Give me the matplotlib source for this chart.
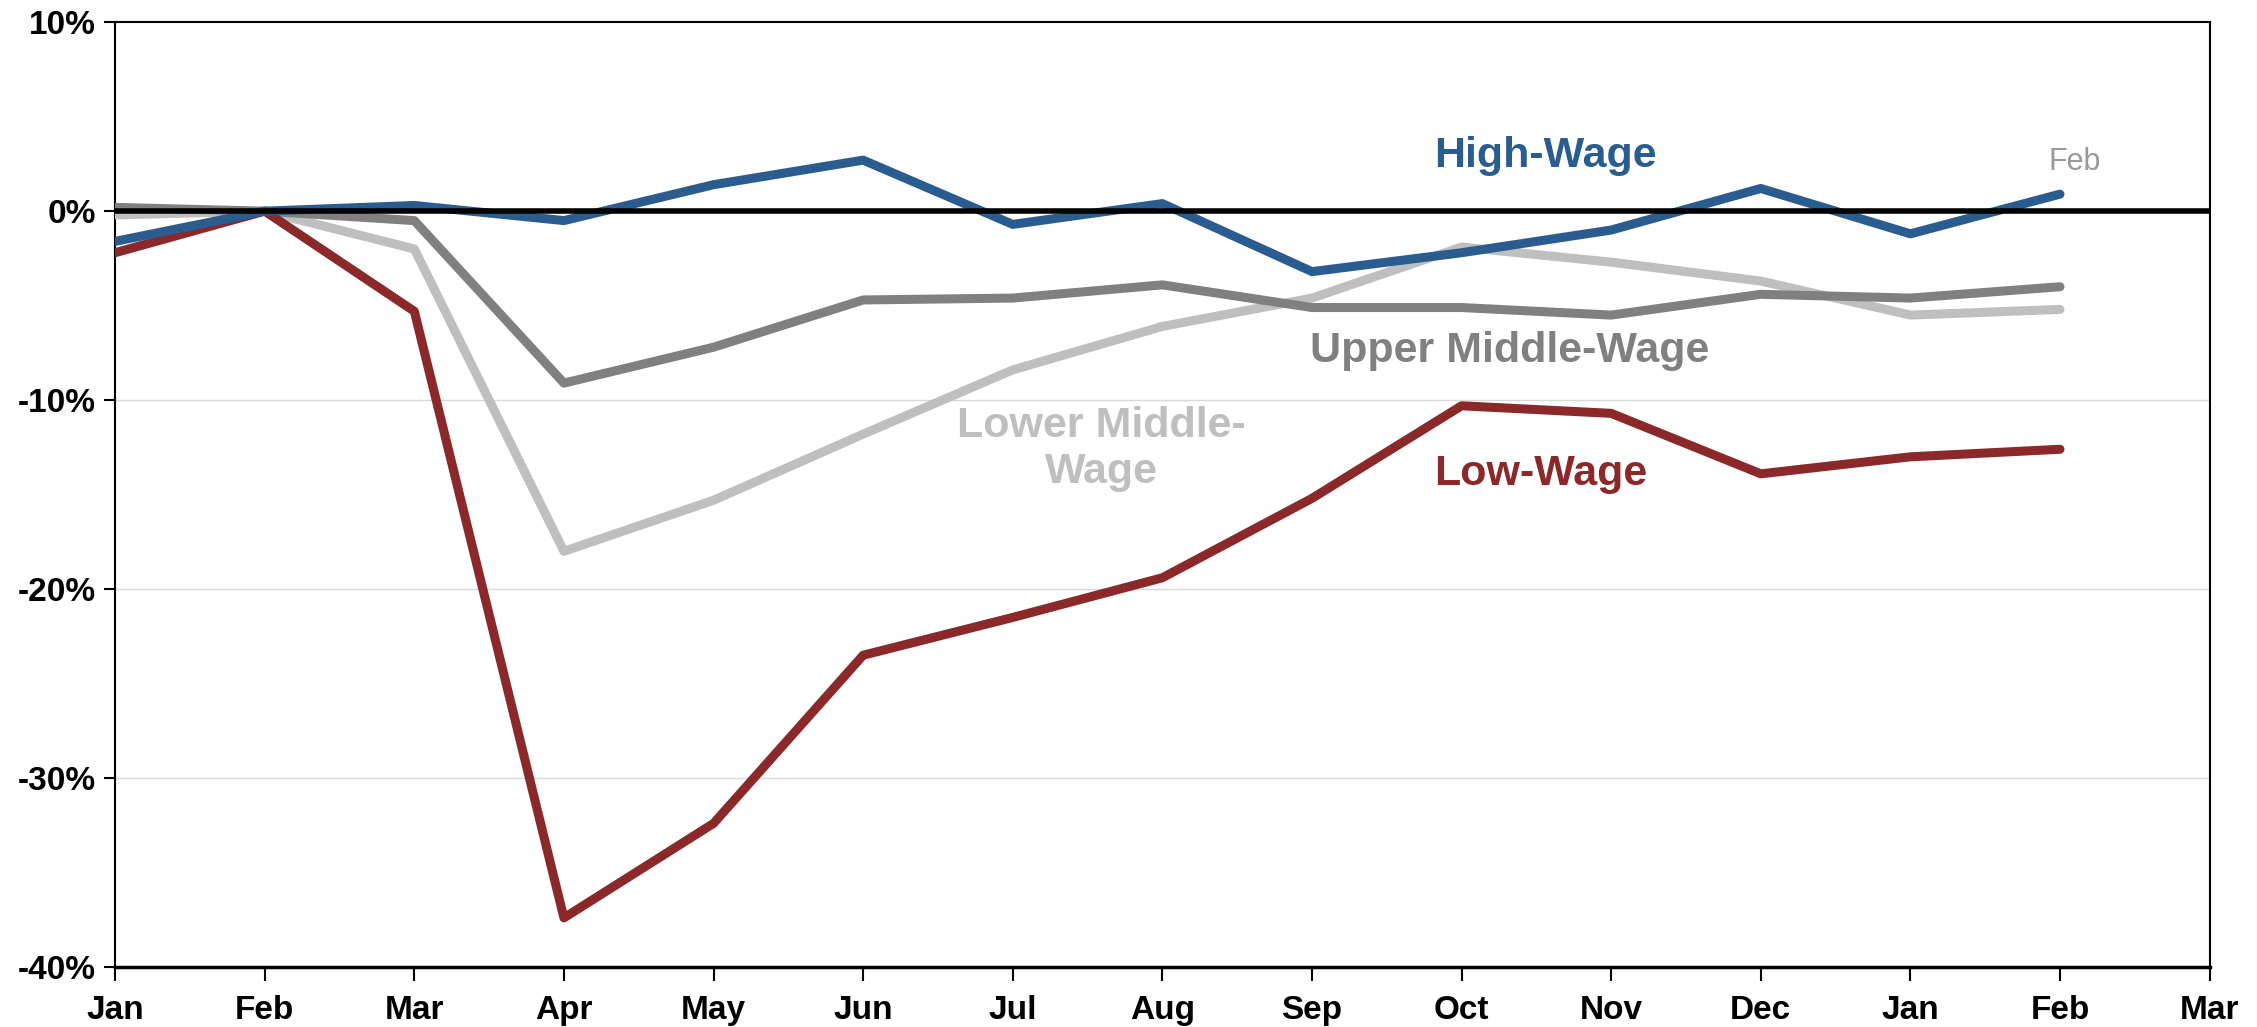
import matplotlib.pyplot as plt
from matplotlib.ticker import FuncFormatter

plt.rcParams['font.family'] = ['Liberation Sans', 'DejaVu Sans']
plt.rcParams['axes.unicode_minus'] = False

# data: % change in employment vs Feb 2020, Jan 2020 .. Feb 2021
months = ["Jan", "Feb", "Mar", "Apr", "May", "Jun", "Jul", "Aug", "Sep", "Oct",
          "Nov", "Dec", "Jan", "Feb", "Mar"]
high_wage = [-1.6, 0.0, 0.3, -0.5, 1.4, 2.7, -0.7, 0.4, -3.2, -2.2, -1.0, 1.2, -1.2, 0.9]
upper_middle = [0.2, 0.0, -0.5, -9.1, -7.2, -4.7, -4.6, -3.9, -5.1, -5.1, -5.5, -4.4, -4.6, -4.0]
lower_middle = [-0.2, 0.0, -2.0, -18.0, -15.3, -11.8, -8.4, -6.1, -4.6, -1.9, -2.7, -3.7, -5.5, -5.2]
low_wage = [-2.2, 0.0, -5.3, -37.4, -32.4, -23.5, -21.5, -19.4, -15.2, -10.3, -10.7, -13.9, -13.0, -12.6]

c_high = "#2B5C8F"
c_upper = "#808080"
c_lower = "#BFBFBF"
c_low = "#8B2829"

fig = plt.figure(figsize=(22.57, 10.27), dpi=100)
ax = fig.add_axes([0.051, 0.0584, 0.928, 0.92])

x = list(range(len(high_wage)))
lw = 6.5
ax.plot(x, lower_middle, color=c_lower, lw=lw, solid_capstyle='round', zorder=3)
ax.plot(x, upper_middle, color=c_upper, lw=lw, solid_capstyle='round', zorder=4)
ax.plot(x, low_wage, color=c_low, lw=lw, solid_capstyle='round', zorder=5)
ax.plot(x, high_wage, color=c_high, lw=lw, solid_capstyle='round', zorder=6)
ax.axhline(0, color="black", lw=4, zorder=7)

for yv in [-10, -20, -30]:
    ax.axhline(yv, color="#D9D9D9", lw=1, zorder=1)

ax.set_xlim(0, len(months) - 1)
ax.set_ylim(-40, 10)
ax.set_xticks(range(len(months)))
ax.set_xticklabels(months)
ax.set_yticks([10, 0, -10, -20, -30, -40])
ax.yaxis.set_major_formatter(FuncFormatter(lambda v, p: f"{v:.0f}%"))
ax.tick_params(axis='both', labelsize=24, width=1.5, direction='out')
ax.tick_params(axis='x', length=10, pad=10)
ax.tick_params(axis='y', length=8, pad=6)
for lab in ax.get_xticklabels() + ax.get_yticklabels():
    lab.set_fontweight('bold')
for s in ax.spines.values():
    s.set_linewidth(1.5)
ax.spines['bottom'].set_linewidth(2.5)

tkw = dict(fontsize=31, fontweight='bold', ha='center', va='center')
ax.text(9.56, 2.9, "High-Wage", color=c_high, **tkw)
ax.text(9.32, -7.4, "Upper Middle-Wage", color=c_upper, **tkw)
ax.text(6.59, -12.6, "Lower Middle-\nWage", color=c_lower, linespacing=1.2, **tkw)
ax.text(9.53, -13.9, "Low-Wage", color=c_low, **tkw)
ax.text(13.1, 2.6, "Feb", color="#999999", fontsize=22, ha='center', va='center')

plt.savefig("out.png", dpi=100)
